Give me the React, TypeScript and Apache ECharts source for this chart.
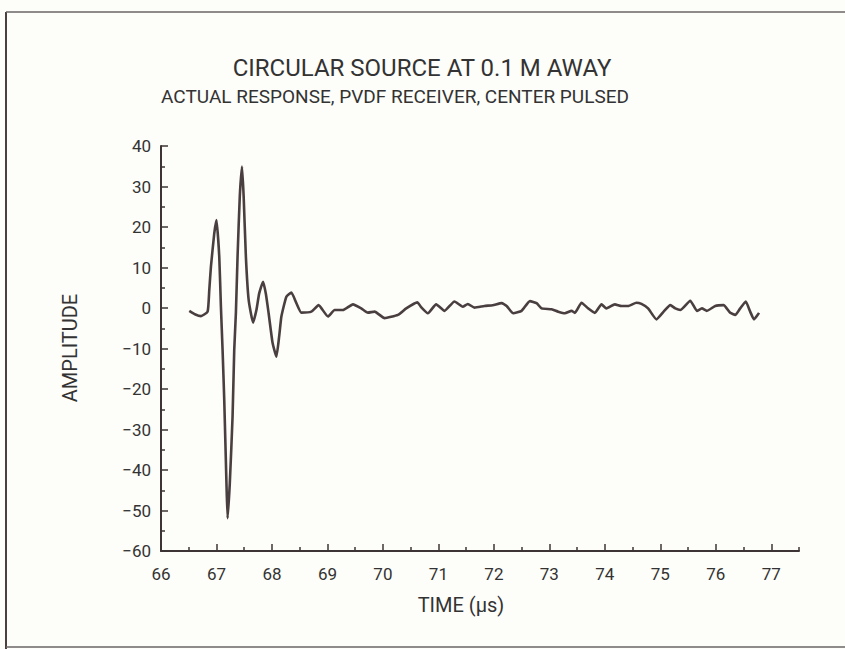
import React, { useEffect, useRef } from "react";
import * as echarts from "echarts";

const titleText = "CIRCULAR SOURCE AT 0.1 M AWAY";
const subtitleText = "ACTUAL RESPONSE, PVDF RECEIVER, CENTER PULSED";
const xAxisName = "TIME (\u03bcs)";
const yAxisName = "AMPLITUDE";

const xMajorTicks = [66, 67, 68, 69, 70, 71, 72, 73, 74, 75, 76, 77];
const xMinorTicks = [66.5, 67.5, 68.5, 69.5, 70.5, 71.5, 72.5, 73.5, 74.5, 75.5, 76.5, 77.5];

const timeValues = [
  66.51, 66.62, 66.72, 66.84, 66.87, 66.9, 66.96, 67.0, 67.05, 67.08, 67.11, 67.14, 67.18,
  67.2, 67.24, 67.29, 67.32, 67.35, 67.38, 67.42, 67.46, 67.49, 67.53, 67.58, 67.66,
  67.72, 67.77, 67.84, 67.89, 67.94, 68.01, 68.08, 68.13, 68.17, 68.26, 68.35, 68.44, 68.53,
  68.71, 68.84, 69.01, 69.13, 69.28, 69.46, 69.61, 69.73, 69.85, 70.03, 70.27, 70.42,
  70.62, 70.69, 70.81, 70.96, 71.11, 71.29, 71.44, 71.53, 71.65, 71.83, 71.98, 72.14,
  72.23, 72.35, 72.5, 72.65, 72.77, 72.86, 73.04, 73.16, 73.28, 73.4, 73.46, 73.58,
  73.7, 73.82, 73.94, 74.03, 74.18, 74.3, 74.42, 74.57, 74.66, 74.78, 74.93, 75.06,
  75.18, 75.27, 75.36, 75.54, 75.66, 75.75, 75.84, 75.99, 76.14, 76.26, 76.35, 76.44,
  76.54, 76.62, 76.69, 76.78,
];
const amplitudeValues = [
  -0.7, -1.6, -2.0, -0.9, 4.4, 10.2, 18.4, 21.7, 12.7, 0.3, -10.4, -22.7, -43.3,
  -51.9, -43.3, -26.8, -10.4, -1.2, 12.7, 27.5, 34.9, 27.5, 12.7, 2.0, -3.6,
  -0.5, 3.6, 6.5, 3.5, -1.3, -8.5, -12.0, -7.0, -2.1, 2.8, 3.8, 1.2, -1.15,
  -0.9, 0.7, -2.1, -0.5, -0.5, 0.9, -0.1, -1.15, -0.9, -2.5, -1.7, -0.1,
  1.4, 0.2, -1.3, 0.9, -0.7, 1.6, 0.3, 1.0, 0.1, 0.5, 0.7, 1.2,
  0.5, -1.3, -0.7, 1.7, 1.2, -0.1, -0.3, -0.9, -1.3, -0.7, -1.2, 1.3,
  -0.1, -1.2, 0.9, -0.1, 0.9, 0.5, 0.5, 1.3, 1.0, -0.1, -2.8, -0.9,
  0.7, -0.1, -0.5, 1.8, -0.7, -0.1, -0.7, 0.5, 0.7, -1.2, -1.7, -0.1,
  1.6, -0.9, -2.8, -1.2,
];

const FONT = "Roboto, 'Liberation Sans', sans-serif";
const INK = "#3d3535";

export default function App() {
  const ref = useRef<HTMLDivElement>(null);
  useEffect(() => {
    if (!ref.current) return;
    const chart = echarts.init(ref.current, undefined, { renderer: "svg" });
    const data = timeValues.map((t, i) => [t, amplitudeValues[i]]);
    chart.setOption({
      animation: false,
      backgroundColor: "#fdfdf9",
      grid: { left: 161, right: 46, top: 146, bottom: 98, containLabel: false },
      xAxis: [
        {
          type: "value",
          min: 66,
          max: 77.5,
          interval: 1,
          splitLine: { show: false },
          axisLine: { show: true, onZero: false, lineStyle: { color: INK, width: 2 } },
          axisTick: {
            show: true,
            inside: true,
            length: 7,
            customValues: xMajorTicks,
            lineStyle: { color: INK, width: 1.5 },
          },
          axisLabel: {
            customValues: xMajorTicks,
            color: "#333",
            fontFamily: FONT,
            fontSize: 17,
            margin: 14,
          },
        },
        {
          type: "value",
          min: 66,
          max: 77.5,
          interval: 0.5,
          position: "bottom",
          splitLine: { show: false },
          axisLine: { show: false, onZero: false },
          axisTick: {
            show: true,
            inside: true,
            length: 4,
            customValues: xMinorTicks,
            lineStyle: { color: INK, width: 1.5 },
          },
          axisLabel: { show: false },
        },
      ],
      yAxis: {
        type: "value",
        min: -60,
        max: 40,
        interval: 10,
        splitLine: { show: false },
        axisLine: { show: true, onZero: false, lineStyle: { color: INK, width: 2 } },
        axisTick: { show: true, inside: true, length: 7, lineStyle: { color: INK, width: 1.5 } },
        minorTick: { show: true, splitNumber: 2, length: 4, lineStyle: { color: INK, width: 1.5 } },
        axisLabel: {
          color: "#333",
          fontFamily: FONT,
          fontSize: 17,
          margin: 10,
          formatter: (v: number) => (v < 0 ? "\u2212" + Math.abs(v) : String(v)),
        },
      },
      series: [
        {
          type: "line",
          xAxisIndex: 0,
          data,
          smooth: 0.15,
          showSymbol: false,
          lineStyle: { color: "#4a3f40", width: 2.6 },
        },
      ],
      graphic: [
        { type: "line", shape: { x1: 6, y1: 12, x2: 6, y2: 649 }, style: { stroke: "#4a4040", lineWidth: 2 } },
        { type: "line", shape: { x1: 6, y1: 12, x2: 845, y2: 12 }, style: { stroke: "#6a6464", lineWidth: 1.5 } },
        { type: "line", shape: { x1: 6, y1: 647, x2: 845, y2: 647 }, style: { stroke: "#6a6464", lineWidth: 1.5 } },
        {
          type: "text",
          x: 422,
          y: 68,
          style: { text: titleText, fill: "#333", font: `24px ${FONT}`, align: "center", verticalAlign: "middle" },
        },
        {
          type: "text",
          x: 395,
          y: 96,
          style: { text: subtitleText, fill: "#333", font: `19px ${FONT}`, align: "center", verticalAlign: "middle" },
        },
        {
          type: "text",
          x: 461,
          y: 605,
          style: { text: xAxisName, fill: "#333", font: `20px ${FONT}`, align: "center", verticalAlign: "middle" },
        },
        {
          type: "text",
          x: 70,
          y: 348,
          rotation: Math.PI / 2,
          style: { text: yAxisName, fill: "#333", font: `20px ${FONT}`, align: "center", verticalAlign: "middle" },
        },
      ],
    });
    return () => chart.dispose();
  }, []);
  return <div ref={ref} style={{ width: 845, height: 649, position: "absolute", left: 0, top: 0 }} />;
}
